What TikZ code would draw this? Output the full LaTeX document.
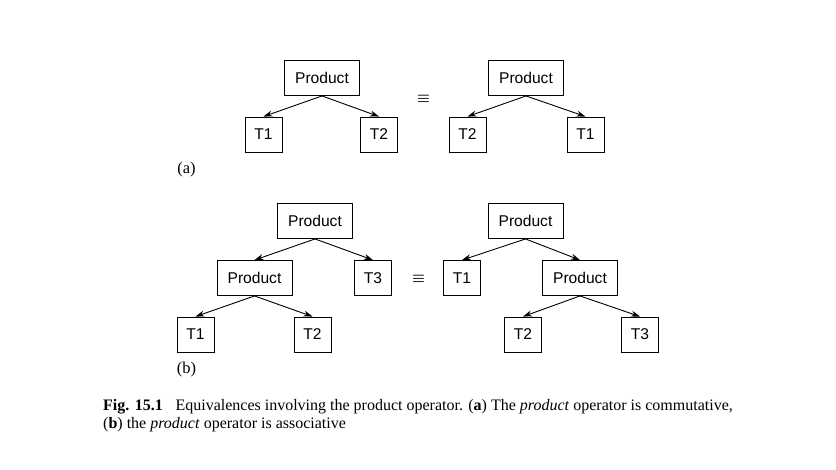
\documentclass[tikz,border=0pt]{standalone}
\usepackage{fontspec}
\setmainfont{Liberation Serif}
\newfontfamily\boxfont{Liberation Sans}
\usetikzlibrary{arrows.meta}
\begin{document}
\begin{tikzpicture}[x=1pt,y=-1pt,
  opbox/.style={draw,line width=0.9pt,inner sep=0pt,minimum width=75pt,minimum height=35pt,font=\boxfont\fontsize{15.6}{18}\selectfont},
  leafbox/.style={opbox,minimum width=37pt},
  edge/.style={line width=0.9pt,-{Stealth[length=9pt,width=6pt]}},
  eqv/.style={font=\fontsize{14}{16}\selectfont\boldmath},
  lbl/.style={font=\fontsize{16.5}{19}\selectfont},
  captext/.style={anchor=base west,font=\fontsize{16}{19}\selectfont,inner sep=0pt}]
\useasboundingbox (0,0) rectangle (836,470);
% (a)
\node[opbox] (pa) at (322,78) {Product};
\node[leafbox] (a1) at (263.5,134.5) {T1};
\node[leafbox] (a2) at (379,134.5) {T2};
\node[eqv] (eqa) at (423.5,99) {$\equiv$};
\node[opbox] (pb) at (526,78) {Product};
\node[leafbox] (b2) at (467.5,134.5) {T2};
\node[leafbox] (b1) at (585.5,134.5) {T1};
\draw[edge] (pa.south) -- (a1.north);
\draw[edge] (pa.south) -- (a2.north);
\draw[edge] (pb.south) -- (b2.north);
\draw[edge] (pb.south) -- (b1.north);
\node[lbl] (la) at (186.5,170) {(a)};
% (b)
\node[opbox] (qt) at (315,221) {Product};
\node[opbox] (qm) at (254.5,278) {Product};
\node[leafbox] (q3) at (373,278) {T3};
\node[leafbox] (q1) at (195.5,334.5) {T1};
\node[leafbox] (q2) at (312.5,334.5) {T2};
\draw[edge] (qt.south) -- (qm.north);
\draw[edge] (qt.south) -- (q3.north);
\draw[edge] (qm.south) -- (q1.north);
\draw[edge] (qm.south) -- (q2.north);
\node[eqv] (eqb) at (418.5,279) {$\equiv$};
\node[opbox] (rt) at (525.5,221) {Product};
\node[leafbox] (r1) at (462,278) {T1};
\node[opbox] (rm) at (580,278) {Product};
\node[leafbox] (r2) at (523,334.5) {T2};
\node[leafbox] (r3) at (640,334.5) {T3};
\draw[edge] (rt.south) -- (r1.north);
\draw[edge] (rt.south) -- (rm.north);
\draw[edge] (rm.south) -- (r2.north);
\draw[edge] (rm.south) -- (r3.north);
\node[lbl] (lb) at (186.5,369.5) {(b)};
% caption
\node[captext] (cap1) at (103,410) {\textbf{Fig. 15.1}\hspace{0.8em}Equivalences involving the product operator. (\textbf{a}) The \textit{product} operator is commutative,};
\node[captext] (cap2) at (103,428.5) {(\textbf{b}) the \textit{product} operator is associative};
\end{tikzpicture}
\end{document}
